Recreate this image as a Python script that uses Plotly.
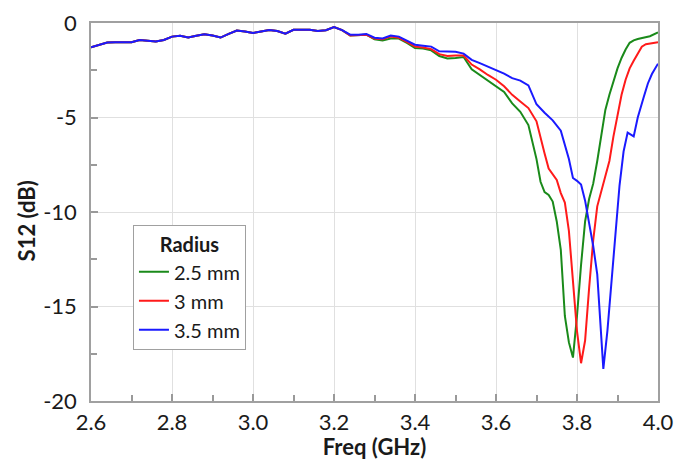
import plotly.graph_objects as go

# Shared low-frequency part (curves overlap)
freq_base = [2.60, 2.62, 2.64, 2.66, 2.68, 2.70, 2.72, 2.74, 2.76, 2.78, 2.80, 2.82, 2.84, 2.86,
             2.88, 2.90, 2.92, 2.94, 2.96, 2.98, 3.00, 3.02, 3.04, 3.06, 3.08, 3.10, 3.12, 3.14,
             3.16, 3.18, 3.20, 3.22]
s12_base = [-1.28, -1.15, -1.03, -1.02, -1.03, -1.02, -0.90, -0.95, -0.98, -0.90, -0.72, -0.68,
            -0.76, -0.68, -0.60, -0.66, -0.77, -0.58, -0.40, -0.45, -0.53, -0.45, -0.37, -0.42,
            -0.56, -0.36, -0.34, -0.36, -0.42, -0.38, -0.21, -0.38]

# Radius 2.5 mm
freq_25 = [3.24, 3.26, 3.28, 3.30, 3.32, 3.34, 3.36, 3.38, 3.40, 3.42, 3.44, 3.46, 3.48, 3.50,
           3.52, 3.54, 3.56, 3.58, 3.60, 3.62, 3.64, 3.66, 3.68, 3.70, 3.71, 3.72, 3.73, 3.74,
           3.75, 3.76, 3.77, 3.78, 3.79, 3.80, 3.81, 3.82, 3.83, 3.84, 3.85, 3.86, 3.87, 3.88,
           3.89, 3.90, 3.91, 3.92, 3.93, 3.94, 3.95, 3.96, 3.97, 3.98, 4.00]
s12_25 = [-0.66, -0.66, -0.62, -0.86, -0.92, -0.82, -0.82, -1.05, -1.32, -1.35, -1.45, -1.75,
          -1.88, -1.85, -1.80, -2.45, -2.75, -3.05, -3.35, -3.65, -4.25, -4.70, -5.40, -7.20,
          -8.40, -8.95, -9.10, -9.45, -10.5, -12.0, -15.5, -16.9, -17.7, -15.5, -12.8, -10.5,
          -9.3, -8.5, -7.3, -5.9, -4.6, -3.8, -3.05, -2.4, -1.85, -1.4, -1.05, -0.92, -0.85,
          -0.80, -0.76, -0.70, -0.50]

# Radius 3 mm
freq_3 = [3.24, 3.26, 3.28, 3.30, 3.32, 3.34, 3.36, 3.38, 3.40, 3.42, 3.44, 3.46, 3.48, 3.50,
          3.52, 3.54, 3.56, 3.58, 3.60, 3.62, 3.64, 3.66, 3.68, 3.70, 3.71, 3.72, 3.73, 3.74,
          3.75, 3.76, 3.77, 3.78, 3.79, 3.80, 3.81, 3.82, 3.83, 3.84, 3.85, 3.86, 3.87, 3.88,
          3.89, 3.90, 3.91, 3.92, 3.93, 3.94, 3.95, 3.96, 3.97, 3.98, 4.00]
s12_3 = [-0.66, -0.66, -0.62, -0.82, -0.86, -0.72, -0.78, -1.00, -1.25, -1.30, -1.38, -1.65,
         -1.75, -1.72, -1.72, -2.20, -2.45, -2.75, -3.00, -3.35, -3.80, -4.15, -4.50, -5.20,
         -6.10, -6.90, -7.70, -8.00, -8.30, -9.00, -9.50, -11.0, -13.8, -16.3, -18.0, -16.8,
         -14.0, -11.5, -9.7, -8.9, -8.2, -7.3, -6.0, -4.9, -3.8, -3.0, -2.4, -2.0, -1.6,
         -1.25, -1.12, -1.08, -1.02]

# Radius 3.5 mm
freq_35 = [3.24, 3.26, 3.28, 3.30, 3.32, 3.34, 3.36, 3.38, 3.40, 3.42, 3.44, 3.46, 3.48, 3.50,
           3.52, 3.54, 3.56, 3.58, 3.60, 3.62, 3.64, 3.66, 3.68, 3.70, 3.72, 3.74, 3.76, 3.77,
           3.78, 3.79, 3.80, 3.81, 3.82, 3.83, 3.84, 3.85, 3.86, 3.865, 3.875, 3.885, 3.895,
           3.905, 3.915, 3.925, 3.94, 3.95, 3.965, 3.975, 3.985, 4.00]
s12_35 = [-0.62, -0.62, -0.58, -0.78, -0.82, -0.66, -0.72, -0.95, -1.15, -1.20, -1.25, -1.50,
          -1.52, -1.52, -1.62, -1.95, -2.12, -2.30, -2.50, -2.68, -2.92, -3.05, -3.30, -4.30,
          -4.75, -5.15, -5.70, -6.40, -7.20, -8.20, -8.35, -8.55, -9.40, -10.6, -11.8, -13.3,
          -16.5, -18.3, -16.3, -13.6, -11.0, -8.6, -6.8, -5.8, -6.0, -5.0, -3.9, -3.2, -2.7,
          -2.15]

names = ["2.5 mm", "3 mm", "3.5 mm"]
colors = ["#1a8a1a", "#ff1a1a", "#1a1aff"]
series = [(freq_25, s12_25), (freq_3, s12_3), (freq_35, s12_35)]

y_tick_vals = [0, -5, -10, -15, -20]
y_tick_text = ["0", "-5", "-10", "-15", "-20"]

FONT = "Lato, 'Open Sans', sans-serif"

fig = go.Figure()
for name, color, (fx, fy) in zip(names, colors, series):
    fig.add_trace(go.Scatter(x=freq_base + fx, y=s12_base + fy, mode="lines", name=name,
                             line=dict(color=color, width=2)))

axis_common = dict(showline=True, linecolor="#a0a0a0", linewidth=1.5, mirror=True,
                   showgrid=True, gridcolor="#e0e0e0", gridwidth=1, zeroline=False,
                   ticks="inside", ticklen=7, tickcolor="#999999", tickwidth=1.5,
                   automargin=False,
                   tickfont=dict(family=FONT, size=22, color="#1a1a1a"))

fig.update_layout(
    width=683, height=460,
    margin=dict(l=91, r=25, t=23, b=59),
    paper_bgcolor="white", plot_bgcolor="white",
    font=dict(family=FONT, color="#1a1a1a"),
    xaxis=dict(range=[2.6, 4.0], dtick=0.2, tick0=2.6, tickformat=".1f",
               ticklabelstandoff=1,
               title=dict(text="<b>Freq (GHz)</b>", font=dict(family=FONT, size=22), standoff=6),
               minor=dict(dtick=0.1, ticks="inside", ticklen=6, tickcolor="#999999", showgrid=False),
               **axis_common),
    yaxis=dict(range=[-20, 0], tickmode="array", tickvals=y_tick_vals, ticktext=y_tick_text,
               ticklabelstandoff=8,
               minor=dict(dtick=2.5, ticks="inside", ticklen=6, tickcolor="#999999", showgrid=False),
               **axis_common),
    legend=dict(x=0.074, y=0.465, xanchor="left", yanchor="top",
                bgcolor="white", bordercolor="#a0a0a0", borderwidth=1,
                title=dict(text="<b>Radius</b>", font=dict(family=FONT, size=20), side="top center"),
                font=dict(family=FONT, size=20), tracegroupgap=0, itemwidth=30),
    showlegend=True,
    annotations=[dict(text="<b>S12 (dB)</b>", textangle=-90, xref="paper", yref="paper",
                      x=-0.114, y=0.476, xanchor="center", yanchor="middle", showarrow=False,
                      font=dict(family=FONT, size=22, color="#1a1a1a"))],
)

fig.write_html("out.html")
